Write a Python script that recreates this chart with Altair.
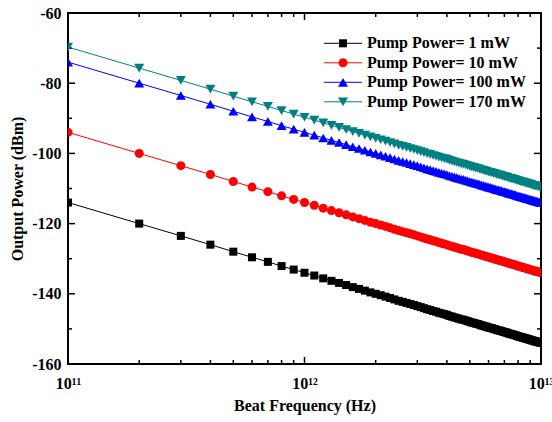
import altair as alt
import pandas as pd

# Beat frequencies: 1e11 Hz to 1e13 Hz in steps of 1e11 Hz
freq_hz = [k * 1e11 for k in range(1, 101)]

power_1mw = [
    -114.0, -120.0, -123.5, -126.0, -128.0, -129.6, -130.9, -132.1, -133.1, -134.0,
    -134.8, -135.6, -136.3, -136.9, -137.5, -138.1, -138.6, -139.1, -139.6, -140.0,
    -140.4, -140.8, -141.2, -141.6, -142.0, -142.3, -142.6, -142.9, -143.2, -143.5,
    -143.8, -144.1, -144.4, -144.6, -144.9, -145.1, -145.4, -145.6, -145.8, -146.0,
    -146.3, -146.5, -146.7, -146.9, -147.1, -147.3, -147.4, -147.6, -147.8, -148.0,
    -148.2, -148.3, -148.5, -148.6, -148.8, -149.0, -149.1, -149.3, -149.4, -149.6,
    -149.7, -149.8, -150.0, -150.1, -150.3, -150.4, -150.5, -150.6, -150.8, -150.9,
    -151.0, -151.1, -151.3, -151.4, -151.5, -151.6, -151.7, -151.8, -152.0, -152.1,
    -152.2, -152.3, -152.4, -152.5, -152.6, -152.7, -152.8, -152.9, -153.0, -153.1,
    -153.2, -153.3, -153.4, -153.5, -153.6, -153.6, -153.7, -153.8, -153.9, -154.0,
]

power_10mw = [
    -94.0, -100.0, -103.5, -106.0, -108.0, -109.6, -110.9, -112.1, -113.1, -114.0,
    -114.8, -115.6, -116.3, -116.9, -117.5, -118.1, -118.6, -119.1, -119.6, -120.0,
    -120.4, -120.8, -121.2, -121.6, -122.0, -122.3, -122.6, -122.9, -123.2, -123.5,
    -123.8, -124.1, -124.4, -124.6, -124.9, -125.1, -125.4, -125.6, -125.8, -126.0,
    -126.3, -126.5, -126.7, -126.9, -127.1, -127.3, -127.4, -127.6, -127.8, -128.0,
    -128.2, -128.3, -128.5, -128.6, -128.8, -129.0, -129.1, -129.3, -129.4, -129.6,
    -129.7, -129.8, -130.0, -130.1, -130.3, -130.4, -130.5, -130.6, -130.8, -130.9,
    -131.0, -131.1, -131.3, -131.4, -131.5, -131.6, -131.7, -131.8, -132.0, -132.1,
    -132.2, -132.3, -132.4, -132.5, -132.6, -132.7, -132.8, -132.9, -133.0, -133.1,
    -133.2, -133.3, -133.4, -133.5, -133.6, -133.6, -133.7, -133.8, -133.9, -134.0,
]

power_100mw = [
    -74.0, -80.0, -83.5, -86.0, -88.0, -89.6, -90.9, -92.1, -93.1, -94.0,
    -94.8, -95.6, -96.3, -96.9, -97.5, -98.1, -98.6, -99.1, -99.6, -100.0,
    -100.4, -100.8, -101.2, -101.6, -102.0, -102.3, -102.6, -102.9, -103.2, -103.5,
    -103.8, -104.1, -104.4, -104.6, -104.9, -105.1, -105.4, -105.6, -105.8, -106.0,
    -106.3, -106.5, -106.7, -106.9, -107.1, -107.3, -107.4, -107.6, -107.8, -108.0,
    -108.2, -108.3, -108.5, -108.6, -108.8, -109.0, -109.1, -109.3, -109.4, -109.6,
    -109.7, -109.8, -110.0, -110.1, -110.3, -110.4, -110.5, -110.6, -110.8, -110.9,
    -111.0, -111.1, -111.3, -111.4, -111.5, -111.6, -111.7, -111.8, -112.0, -112.1,
    -112.2, -112.3, -112.4, -112.5, -112.6, -112.7, -112.8, -112.9, -113.0, -113.1,
    -113.2, -113.3, -113.4, -113.5, -113.6, -113.6, -113.7, -113.8, -113.9, -114.0,
]

power_170mw = [
    -69.7, -75.7, -79.2, -81.7, -83.7, -85.3, -86.6, -87.8, -88.8, -89.7,
    -90.5, -91.3, -92.0, -92.6, -93.2, -93.8, -94.3, -94.8, -95.3, -95.7,
    -96.1, -96.5, -96.9, -97.3, -97.7, -98.0, -98.3, -98.6, -98.9, -99.2,
    -99.5, -99.8, -100.1, -100.3, -100.6, -100.8, -101.1, -101.3, -101.5, -101.7,
    -102.0, -102.2, -102.4, -102.6, -102.8, -103.0, -103.1, -103.3, -103.5, -103.7,
    -103.9, -104.0, -104.2, -104.3, -104.5, -104.7, -104.8, -105.0, -105.1, -105.3,
    -105.4, -105.5, -105.7, -105.8, -106.0, -106.1, -106.2, -106.3, -106.5, -106.6,
    -106.7, -106.8, -107.0, -107.1, -107.2, -107.3, -107.4, -107.5, -107.7, -107.8,
    -107.9, -108.0, -108.1, -108.2, -108.3, -108.4, -108.5, -108.6, -108.7, -108.8,
    -108.9, -109.0, -109.1, -109.2, -109.3, -109.3, -109.4, -109.5, -109.6, -109.7,
]

series_names = [
    "Pump Power= 1 mW",
    "Pump Power= 10 mW",
    "Pump Power= 100 mW",
    "Pump Power= 170 mW",
]
series_values = [power_1mw, power_10mw, power_100mw, power_170mw]
series_colors = ["#000000", "#ff0000", "#0000ff", "#008080"]
series_shapes = ["square", "circle", "triangle-up", "triangle-down"]
series_sizes = [64, 81, 100, 100]

y_major = [-160, -140, -120, -100, -80, -60]
y_minor = [-150, -130, -110, -90, -70]
x_major = [1e11, 1e12, 1e13]
x_minor = [2e11, 3e11, 4e11, 5e11, 6e11, 7e11, 8e11, 9e11,
           2e12, 3e12, 4e12, 5e12, 6e12, 7e12, 8e12, 9e12]

W, H = 473, 351
FONT = "Liberation Serif"

x_scale = alt.Scale(type="log", domain=[1e11, 1e13])
y_scale = alt.Scale(domain=[-160, -60])

x_axis = alt.Axis(
    values=x_major,
    labelExpr="datum.value < 3e11 ? '10¹¹' : (datum.value < 3e12 ? '10¹²' : '10¹³')",
    ticks=False, domain=False, grid=False, labelFlush=False,
    labelFont=FONT, labelFontSize=16, labelFontWeight="bold", labelColor="black",
    labelPadding=11,
    title="Beat Frequency (Hz)", titleFont=FONT, titleFontSize=16,
    titleFontWeight="bold", titleColor="black", titlePadding=6,
)
y_axis = alt.Axis(
    values=y_major,
    labelExpr="'' + datum.value",
    ticks=False, domain=False, grid=False, labelFlush=False,
    labelFont=FONT, labelFontSize=16, labelFontWeight="bold", labelColor="black",
    labelPadding=7,
    title="Output Power (dBm)", titleFont=FONT, titleFontSize=16,
    titleFontWeight="bold", titleColor="black", titlePadding=6,
)

layers = []

# Inward tick marks on all four sides of the frame
def y_ticks(vals, length, right):
    x0, x1 = (W, W - length) if right else (0, length)
    return alt.Chart(pd.DataFrame({"v": vals})).mark_rule(
        color="black", strokeWidth=1.5
    ).encode(
        y=alt.Y("v:Q", scale=y_scale, axis=y_axis),
        x=alt.value(x0), x2=alt.value(x1),
    )

def x_ticks(vals, length, top):
    y0, y1 = (0, length) if top else (H, H - length)
    return alt.Chart(pd.DataFrame({"v": vals})).mark_rule(
        color="black", strokeWidth=1.5
    ).encode(
        x=alt.X("v:Q", scale=x_scale, axis=x_axis),
        y=alt.value(y0), y2=alt.value(y1),
    )

for side in (False, True):
    layers.append(y_ticks(y_major, 7, side))
    layers.append(y_ticks(y_minor, 4, side))
    layers.append(x_ticks(x_major, 7, side))
    layers.append(x_ticks(x_minor, 4, side))

# Data series: line with filled markers
for i, (name, vals) in enumerate(zip(series_names, series_values)):
    df = pd.DataFrame({"freq": freq_hz, "power": vals, "series": name})
    enc = dict(
        x=alt.X("freq:Q", scale=x_scale, axis=x_axis),
        y=alt.Y("power:Q", scale=y_scale, axis=y_axis),
    )
    layers.append(
        alt.Chart(df).mark_line(color=series_colors[i], strokeWidth=1, clip=True).encode(**enc)
    )
    layers.append(
        alt.Chart(df).mark_point(
            filled=True, shape=series_shapes[i], size=series_sizes[i],
            color=series_colors[i], opacity=1, clip=True,
        ).encode(**enc)
    )

# Legend block in the upper right of the plot
for i, name in enumerate(series_names):
    ly = 30.3 + i * 19.5
    ldf = pd.DataFrame({"label": [name]})
    layers.append(
        alt.Chart(ldf).mark_rule(color=series_colors[i], strokeWidth=1).encode(
            x=alt.value(256), x2=alt.value(294), y=alt.value(ly)
        )
    )
    layers.append(
        alt.Chart(ldf).mark_point(
            filled=True, shape=series_shapes[i], size=series_sizes[i],
            color=series_colors[i], opacity=1,
        ).encode(x=alt.value(275), y=alt.value(ly))
    )
    layers.append(
        alt.Chart(ldf).mark_text(
            align="left", baseline="middle", font=FONT, fontSize=16,
            fontWeight="bold", color="black",
        ).encode(x=alt.value(299), y=alt.value(ly), text="label:N")
    )

chart = alt.layer(*layers).properties(
    width=W, height=H,
    autosize=alt.AutoSizeParams(type="none"),
    padding={"left": 68, "top": 13, "right": 11, "bottom": 58},
    background="white",
).configure_view(stroke="black", strokeWidth=2)

chart.save("out.html", embed_options={"renderer": "svg", "actions": False})
